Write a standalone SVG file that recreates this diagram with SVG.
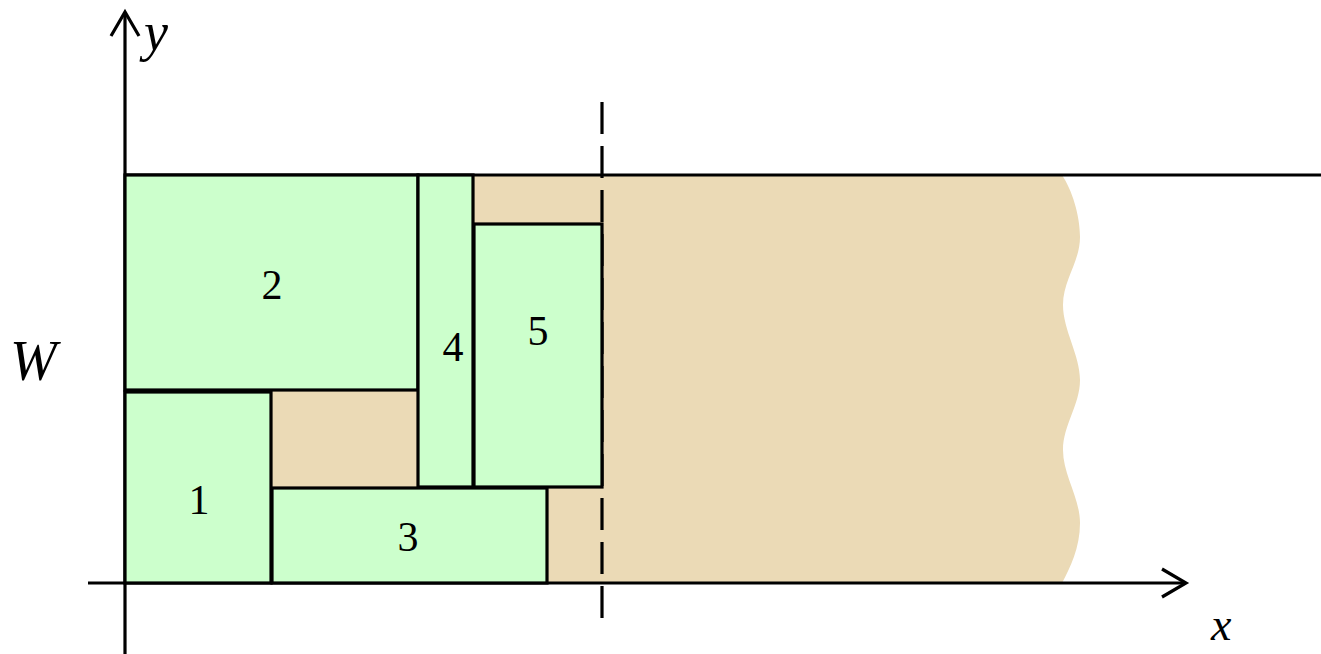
<svg xmlns="http://www.w3.org/2000/svg" width="1321" height="654" viewBox="0 0 1321 654">
<style>
.box{fill:#ccffcc;stroke:#000;stroke-width:3.2}
.ax{stroke:#000;stroke-width:3.2;fill:none}
.num{font-family:"Liberation Serif",serif;font-size:42px;text-anchor:middle}
.var{font-family:"Liberation Serif",serif;font-style:italic}
</style>
<g id="sand">
<path d="M125,175 H1062 C1072,190 1080,215 1080,237 C1080,262 1063,280 1063,305 C1063,330 1080,355 1080,380 C1080,405 1063,425 1063,450 C1063,475 1080,498 1080,523 C1080,548 1070,568 1062,583 H125 Z" fill="#ebdab6"/>
</g>
<g id="connectors">
<line class="ax" x1="125" y1="12" x2="125" y2="654"/>
<polyline class="ax" points="111,36 125,12 139,36"/>
<line class="ax" x1="88" y1="583" x2="1186" y2="583"/>
<polyline class="ax" points="1162,569 1186,583 1162,597"/>
<line class="ax" x1="125" y1="175" x2="1321" y2="175"/>
<line class="ax" x1="602" y1="102" x2="602" y2="620" stroke-dasharray="32 12"/>
</g>
<g id="node2"><rect class="box" x="125" y="175" width="293" height="215"/><text class="num" x="272" y="299">2</text></g>
<g id="node1"><rect class="box" x="125" y="392" width="146" height="191"/><text class="num" x="199" y="514">1</text></g>
<g id="node3"><rect class="box" x="272" y="488" width="275" height="95"/><text class="num" x="408" y="551">3</text></g>
<g id="node4"><rect class="box" x="418" y="175" width="55" height="312"/><text class="num" x="453" y="361">4</text></g>
<g id="node5"><rect class="box" x="474" y="224" width="128" height="263"/><text class="num" x="538" y="345">5</text></g>
<text class="var" x="144" y="50" font-size="54">y</text>
<text class="var" x="1211" y="640" font-size="46">x</text>
<text class="var" x="10" y="380" font-size="56">W</text>
</svg>
